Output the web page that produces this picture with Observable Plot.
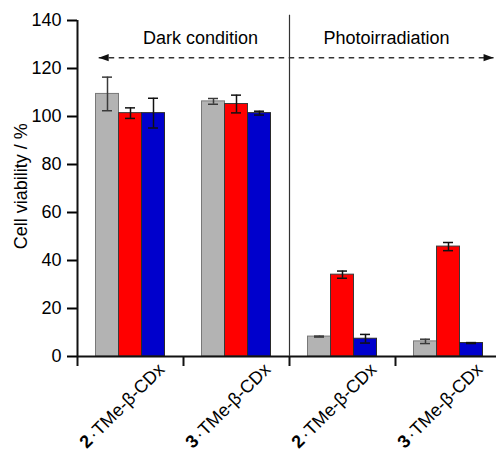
<!DOCTYPE html>
<html><head><meta charset="utf-8">
<script src="https://cdn.jsdelivr.net/npm/d3@7"></script>
<script src="https://cdn.jsdelivr.net/npm/@observablehq/plot@0.6"></script>
<style>html,body{margin:0;padding:0;background:#fff;overflow:hidden}</style>
</head><body><div id="chart"></div>
<script>
// ---- data ----
const groupLabels = ["2·TMe-β-CDx", "3·TMe-β-CDx", "2·TMe-β-CDx", "3·TMe-β-CDx"];
const seriesNames = ["grey", "red", "blue"];
const grayValues = [109.4, 106.3, 8.3, 6.3];
const grayErrors = [7.0, 1.2, 0.2, 0.9];
const redValues = [101.4, 105.2, 34.1, 45.8];
const redErrors = [2.2, 3.7, 1.5, 1.7];
const blueValues = [101.4, 101.4, 7.4, 5.6];
const blueErrors = [6.2, 0.8, 1.8, 0.2];
const conditionLabels = ["Dark condition", "Photoirradiation"];
const yTicks = [0, 20, 40, 60, 80, 100, 120, 140];
const yLabel = "Cell viability / %";

// ---- styles / layout ----
const FONT = "'Liberation Sans', Arial, Helvetica, sans-serif";
const fills = {grey: "#b3b3b3", red: "#ff0000", blue: "#0000cc"};
const outlines = {grey: "#787878", red: "#3a3a3a", blue: "#2a2a2a"};
const errColors = {grey: "#3a3a3a", red: "#111", blue: "#111"};
const barW = 23 / 106;
const capHalf = 5 / 106;
const conditionX = [1.16, 2.915];
const conditionY = 130.1;
const arrowY = 124.5, arrowX1 = 0.2, arrowX2 = 3.925;
const dividerX = 2, dividerTop = 142.2;

const valuesBySeries = [grayValues, redValues, blueValues];
const errorsBySeries = [grayErrors, redErrors, blueErrors];
const rows = [];
seriesNames.forEach((s, si) => groupLabels.forEach((g, gi) => {
  const c = gi + 0.5 + (si - 1) * barW;
  rows.push({series: s, group: gi, xc: c, x1: c - barW / 2, x2: c + barW / 2,
             value: valuesBySeries[si][gi], err: errorsBySeries[si][gi]});
}));

const arrowHead = {draw(ctx) { ctx.moveTo(0, 0); ctx.lineTo(-10, -3.6); ctx.lineTo(-10, 3.6); ctx.closePath(); }};

const marks = [];
seriesNames.forEach(s => {
  const d = rows.filter(r => r.series === s);
  marks.push(Plot.rect(d, {x1: "x1", x2: "x2", y1: 0, y2: "value", fill: fills[s], stroke: outlines[s], strokeWidth: 1}));
});
seriesNames.forEach(s => {
  const d = rows.filter(r => r.series === s);
  const st = {stroke: errColors[s], strokeWidth: 1.5};
  marks.push(Plot.ruleX(d, {x: "xc", y1: r => r.value - r.err, y2: r => r.value + r.err, ...st}));
  marks.push(Plot.ruleY(d, {y: r => r.value - r.err, x1: r => r.xc - capHalf, x2: r => r.xc + capHalf, ...st}));
  marks.push(Plot.ruleY(d, {y: r => r.value + r.err, x1: r => r.xc - capHalf, x2: r => r.xc + capHalf, ...st}));
});

marks.push(
  Plot.axisY({ticks: yTicks, tickSize: 10, tickPadding: 6, strokeWidth: 2, fontSize: 18, label: null, anchor: "left", color: "#000"}),
  Plot.axisX({ticks: [0, 1, 2, 3, 4], tickSize: 10, strokeWidth: 2, tickFormat: () => "", label: null, anchor: "bottom"}),
  Plot.ruleX([0], {y1: 0, y2: 140, strokeWidth: 2, stroke: "#111"}),
  Plot.ruleY([0], {x1: 0, x2: 4, strokeWidth: 2, stroke: "#111"}),
  Plot.ruleX([dividerX], {y1: 0, y2: dividerTop, stroke: "#333", strokeWidth: 1.2}),
  Plot.link([{a: arrowX1, b: arrowX2}], {x1: "a", x2: "b", y1: arrowY, y2: arrowY, stroke: "#333", strokeWidth: 1.5, strokeDasharray: "5.5,4.5"}),
  Plot.dot([{x: arrowX1, r: 180}, {x: arrowX2, r: 0}], {x: "x", y: arrowY, rotate: "r", symbol: arrowHead, fill: "#111", stroke: "none", r: 5}),
  Plot.text(conditionLabels.map((t, i) => ({t, x: conditionX[i]})), {x: "x", y: conditionY, text: "t", fontSize: 18, lineAnchor: "bottom", fill: "#000"}),
  Plot.text([yLabel], {x: -0.53, y: 70.9, text: d => d, rotate: -90, fontSize: 18, fill: "#000"}),
  Plot.text(groupLabels.map((t, i) => ({t, x: i + 0.5})), {x: "x", y: 0, text: "t", rotate: -45, textAnchor: "end", dx: 31, dy: 10, fontSize: 18, fill: "#000"})
);

const svg = Plot.plot({
  width: 496, height: 453,
  marginLeft: 77, marginRight: 0, marginTop: 20, marginBottom: 97,
  style: {fontFamily: FONT, fontSize: "18px", background: "#fff", color: "#111", overflow: "hidden"},
  x: {domain: [0, 4], range: [77, 501], axis: null},
  y: {domain: [0, 140], axis: null},
  marks
});

// bold compound numbers in group labels, with a spaced middle dot
svg.querySelectorAll("text").forEach(t => {
  const s = t.textContent;
  if (groupLabels.includes(s)) {
    const ns = "http://www.w3.org/2000/svg";
    t.textContent = "";
    const b = document.createElementNS(ns, "tspan");
    b.setAttribute("font-weight", "bold");
    b.textContent = s[0];
    const r = document.createElementNS(ns, "tspan");
    r.setAttribute("dx", "2");
    r.textContent = s.slice(1);
    t.appendChild(b); t.appendChild(r);
  }
});
document.getElementById("chart").appendChild(svg);
</script>
</body></html>
